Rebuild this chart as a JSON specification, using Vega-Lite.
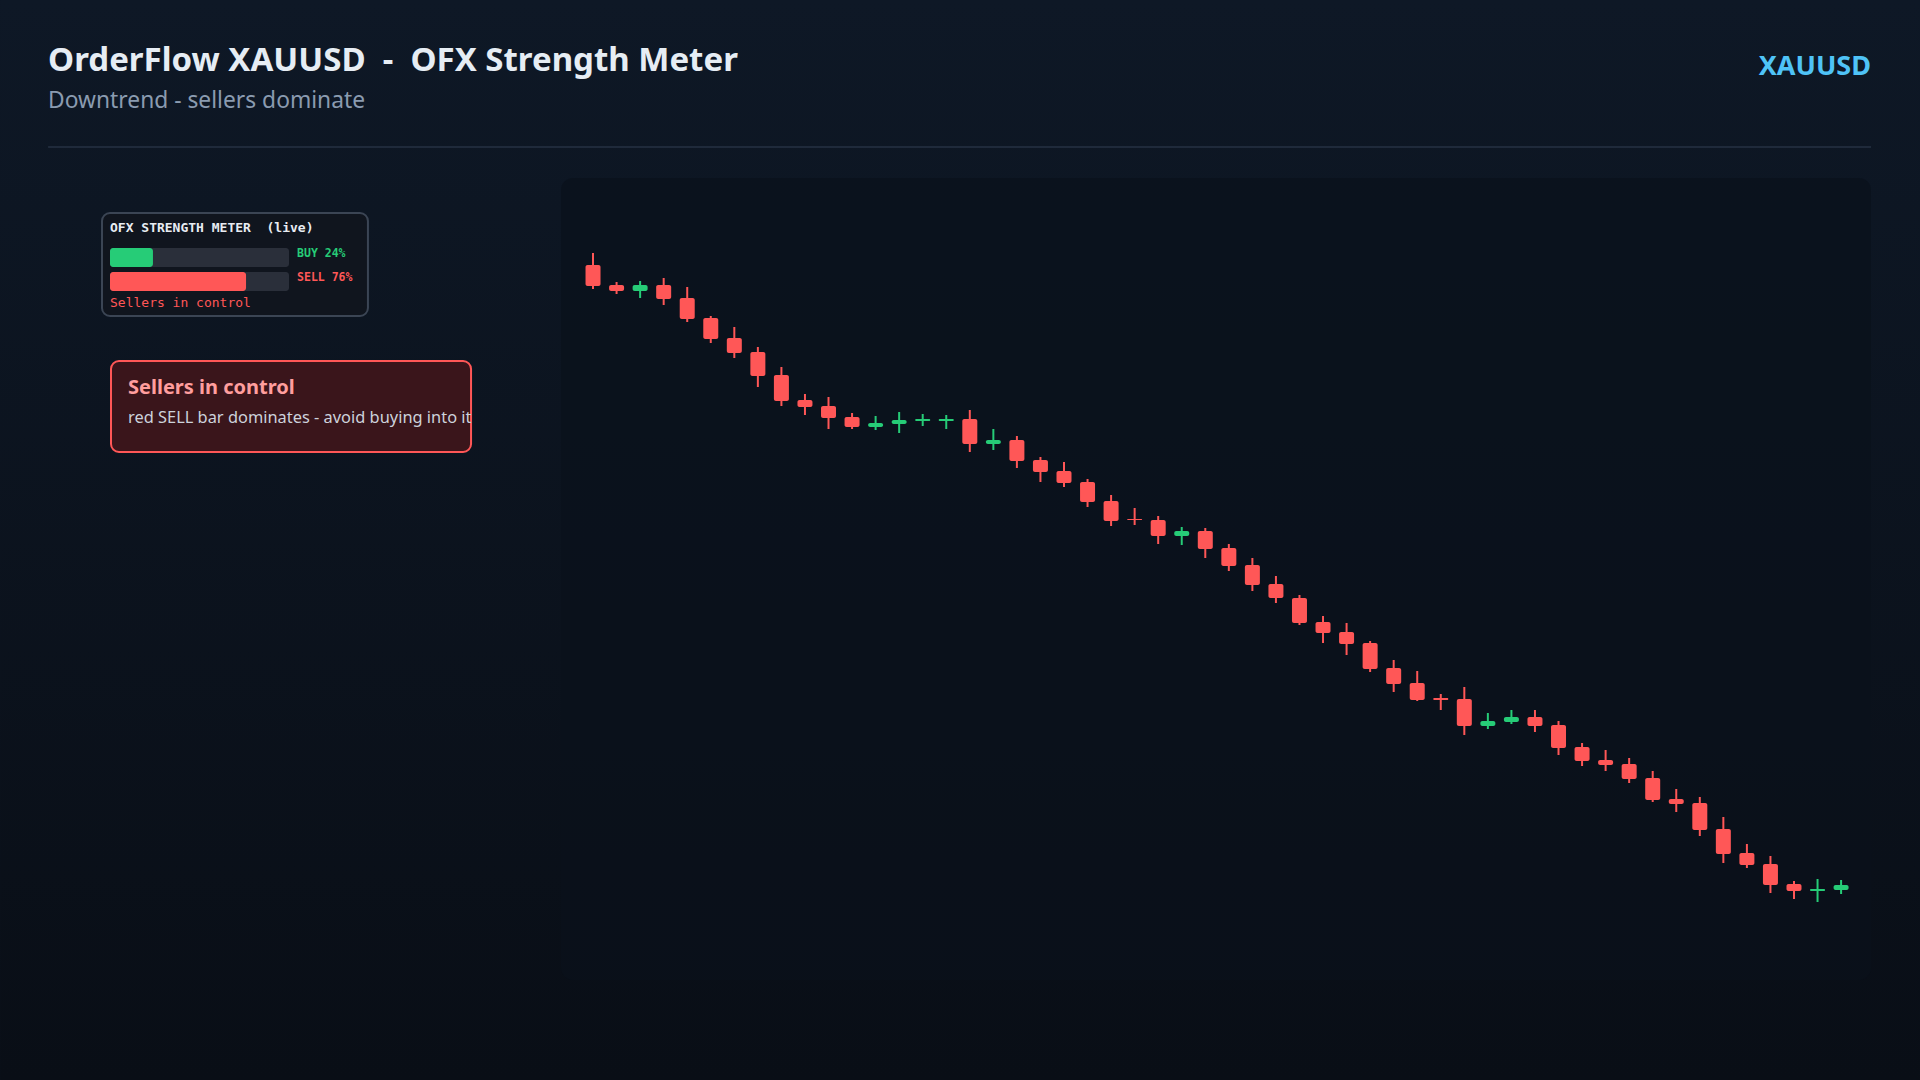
{
  "$schema": "https://vega.github.io/schema/vega-lite/v6.json",
  "description": "OrderFlow XAUUSD - OFX Strength Meter, downtrend candles with a buy/sell meter",
  "width": 1920,
  "height": 1080,
  "autosize": {"type": "none"},
  "padding": 0,
  "background": "#0d1522",
  "config": {
    "view": {"stroke": null},
    "font": "Noto Sans",
    "text": {"font": "Noto Sans"}
  },
  "datasets": {
    "candles": [
      {"t": 0, "o": 2397.0, "h": 2399.4, "l": 2392.2, "c": 2392.8},
      {"t": 1, "o": 2393.0, "h": 2393.6, "l": 2391.2, "c": 2391.8},
      {"t": 2, "o": 2391.8, "h": 2393.8, "l": 2390.4, "c": 2393.0},
      {"t": 3, "o": 2393.0, "h": 2394.4, "l": 2389.0, "c": 2390.2},
      {"t": 4, "o": 2390.4, "h": 2392.6, "l": 2385.6, "c": 2386.2},
      {"t": 5, "o": 2386.4, "h": 2386.8, "l": 2381.4, "c": 2382.2},
      {"t": 6, "o": 2382.4, "h": 2384.6, "l": 2378.4, "c": 2379.4},
      {"t": 7, "o": 2379.6, "h": 2380.6, "l": 2372.6, "c": 2374.8},
      {"t": 8, "o": 2375.0, "h": 2376.6, "l": 2368.8, "c": 2369.8},
      {"t": 9, "o": 2370.0, "h": 2371.2, "l": 2367.0, "c": 2368.6},
      {"t": 10, "o": 2368.8, "h": 2370.6, "l": 2364.2, "c": 2366.4},
      {"t": 11, "o": 2366.6, "h": 2367.4, "l": 2364.2, "c": 2364.6},
      {"t": 12, "o": 2364.6, "h": 2366.8, "l": 2364.0, "c": 2365.4},
      {"t": 13, "o": 2365.2, "h": 2367.6, "l": 2363.4, "c": 2366.0},
      {"t": 14, "o": 2365.8, "h": 2367.2, "l": 2364.8, "c": 2366.2},
      {"t": 15, "o": 2365.8, "h": 2367.0, "l": 2364.2, "c": 2366.2},
      {"t": 16, "o": 2366.2, "h": 2368.0, "l": 2359.6, "c": 2361.2},
      {"t": 17, "o": 2361.2, "h": 2364.2, "l": 2360.0, "c": 2362.0},
      {"t": 18, "o": 2362.0, "h": 2362.8, "l": 2356.4, "c": 2357.8},
      {"t": 19, "o": 2358.0, "h": 2358.6, "l": 2353.6, "c": 2355.6},
      {"t": 20, "o": 2355.8, "h": 2357.6, "l": 2352.6, "c": 2353.4},
      {"t": 21, "o": 2353.6, "h": 2354.2, "l": 2348.6, "c": 2349.6},
      {"t": 22, "o": 2349.8, "h": 2351.0, "l": 2344.8, "c": 2345.8},
      {"t": 23, "o": 2346.2, "h": 2348.4, "l": 2345.0, "c": 2346.0},
      {"t": 24, "o": 2346.0, "h": 2346.8, "l": 2341.2, "c": 2342.8},
      {"t": 25, "o": 2342.8, "h": 2344.6, "l": 2341.0, "c": 2343.8},
      {"t": 26, "o": 2343.8, "h": 2344.4, "l": 2338.4, "c": 2340.2},
      {"t": 27, "o": 2340.4, "h": 2341.2, "l": 2335.8, "c": 2336.8},
      {"t": 28, "o": 2337.0, "h": 2338.4, "l": 2331.8, "c": 2333.0},
      {"t": 29, "o": 2333.2, "h": 2334.8, "l": 2329.4, "c": 2330.4},
      {"t": 30, "o": 2330.4, "h": 2331.0, "l": 2325.0, "c": 2325.4},
      {"t": 31, "o": 2325.6, "h": 2326.8, "l": 2321.4, "c": 2323.4},
      {"t": 32, "o": 2323.6, "h": 2325.4, "l": 2319.0, "c": 2321.2},
      {"t": 33, "o": 2321.4, "h": 2321.8, "l": 2315.6, "c": 2316.2},
      {"t": 34, "o": 2316.4, "h": 2318.0, "l": 2311.6, "c": 2313.2},
      {"t": 35, "o": 2313.4, "h": 2315.8, "l": 2309.8, "c": 2310.0},
      {"t": 36, "o": 2310.4, "h": 2311.2, "l": 2308.0, "c": 2310.0},
      {"t": 37, "o": 2310.2, "h": 2312.6, "l": 2303.0, "c": 2304.8},
      {"t": 38, "o": 2304.8, "h": 2307.4, "l": 2304.2, "c": 2305.8},
      {"t": 39, "o": 2305.6, "h": 2308.0, "l": 2305.2, "c": 2306.6},
      {"t": 40, "o": 2306.6, "h": 2308.0, "l": 2303.6, "c": 2304.8},
      {"t": 41, "o": 2305.0, "h": 2305.8, "l": 2299.0, "c": 2300.4},
      {"t": 42, "o": 2300.6, "h": 2301.4, "l": 2296.8, "c": 2297.8},
      {"t": 43, "o": 2298.0, "h": 2300.0, "l": 2295.8, "c": 2297.0},
      {"t": 44, "o": 2297.2, "h": 2298.4, "l": 2293.4, "c": 2294.2},
      {"t": 45, "o": 2294.4, "h": 2295.8, "l": 2289.6, "c": 2290.0},
      {"t": 46, "o": 2290.2, "h": 2292.2, "l": 2287.6, "c": 2289.2},
      {"t": 47, "o": 2289.4, "h": 2290.6, "l": 2282.8, "c": 2284.0},
      {"t": 48, "o": 2284.2, "h": 2286.6, "l": 2277.4, "c": 2279.2},
      {"t": 49, "o": 2279.4, "h": 2281.2, "l": 2276.4, "c": 2277.0},
      {"t": 50, "o": 2277.2, "h": 2278.8, "l": 2271.4, "c": 2273.0},
      {"t": 51, "o": 2273.2, "h": 2273.8, "l": 2270.2, "c": 2271.8},
      {"t": 52, "o": 2271.8, "h": 2274.2, "l": 2269.6, "c": 2272.2},
      {"t": 53, "o": 2272.0, "h": 2274.0, "l": 2271.2, "c": 2273.0}
    ],
    "meter": [
      {"side": "BUY", "label": "BUY 24%", "pct": 24, "row": 0},
      {"side": "SELL", "label": "SELL 76%", "pct": 76, "row": 1}
    ]
  },
  "layer": [
    {
      "description": "Page background, header and candle panel share the price scale",
      "data": {"name": "candles"},
      "encoding": {
        "x": {"type": "quantitative", "scale": {"domain": [-1.36, 54.27], "range": [561, 1871], "zero": false, "nice": false, "padding": 0}, "axis": null},
        "y": {"type": "quantitative", "scale": {"domain": [2254, 2414.4], "range": [980, 178], "zero": false, "nice": false, "padding": 0}, "axis": null}
      },
      "layer": [
        {
          "data": {"values": [{}]},
          "mark": {
            "type": "rect",
            "fill": {
              "gradient": "linear", "x1": 0, "y1": 0, "x2": 0, "y2": 1,
              "stops": [{"offset": 0, "color": "#0e1826"}, {"offset": 1, "color": "#090e16"}]
            }
          },
          "encoding": {
            "x": {"datum": -25.18, "type": "quantitative"},
            "x2": {"datum": 56.35},
            "y": {"datum": 2450, "type": "quantitative"},
            "y2": {"datum": 2234}
          }
        },
        {
          "data": {"values": [{}]},
          "mark": {"type": "rect", "fill": "#0a111b", "fillOpacity": 0.7, "cornerRadius": 12},
          "encoding": {
            "x": {"datum": -1.36, "type": "quantitative"},
            "x2": {"datum": 54.27},
            "y": {"datum": 2414.4, "type": "quantitative"},
            "y2": {"datum": 2254}
          }
        },
        {
          "data": {"values": [{}]},
          "mark": {"type": "rule", "stroke": "#263243", "strokeWidth": 1.5},
          "encoding": {
            "x": {"datum": -23.14, "type": "quantitative"},
            "x2": {"datum": 54.27},
            "y": {"datum": 2420.6, "type": "quantitative"}
          }
        },
        {
          "data": {"values": [{"txt": "OrderFlow XAUUSD\u00a0\u00a0-\u00a0\u00a0OFX Strength Meter"}]},
          "mark": {"type": "text", "align": "left", "baseline": "alphabetic", "fontSize": 33, "fontWeight": "bold", "color": "#e6edf4"},
          "encoding": {
            "x": {"datum": -23.14, "type": "quantitative"},
            "y": {"datum": 2435.8, "type": "quantitative"},
            "text": {"field": "txt"}
          }
        },
        {
          "data": {"values": [{"txt": "Downtrend - sellers dominate"}]},
          "mark": {"type": "text", "align": "left", "baseline": "alphabetic", "fontSize": 22.8, "color": "#8a9bb0"},
          "encoding": {
            "x": {"datum": -23.14, "type": "quantitative"},
            "y": {"datum": 2428.5, "type": "quantitative"},
            "text": {"field": "txt"}
          }
        },
        {
          "data": {"values": [{"txt": "XAUUSD"}]},
          "mark": {"type": "text", "align": "right", "baseline": "alphabetic", "fontSize": 27, "fontWeight": "bold", "color": "#4fc3f7"},
          "encoding": {
            "x": {"datum": 54.27, "type": "quantitative"},
            "y": {"datum": 2435, "type": "quantitative"},
            "text": {"field": "txt"}
          }
        },
        {
          "description": "Wick",
          "mark": {"type": "rule", "strokeWidth": 2},
          "encoding": {
            "x": {"field": "t", "type": "quantitative"},
            "y": {"field": "l", "type": "quantitative"},
            "y2": {"field": "h"},
            "color": {
              "condition": {"test": "datum.c >= datum.o", "value": "#26cc77"},
              "value": "#ff5757"
            }
          }
        },
        {
          "description": "Body",
          "mark": {"type": "bar", "size": 15, "cornerRadius": 2},
          "encoding": {
            "x": {"field": "t", "type": "quantitative"},
            "y": {"field": "o", "type": "quantitative"},
            "y2": {"field": "c"},
            "color": {
              "condition": {"test": "datum.c >= datum.o", "value": "#26cc77"},
              "value": "#ff5757"
            }
          }
        }
      ]
    },
    {
      "description": "OFX strength meter and callout",
      "data": {"name": "meter"},
      "encoding": {
        "x": {"type": "quantitative", "scale": {"domain": [0, 100], "range": [110, 289], "zero": false, "nice": false, "padding": 0}, "axis": null},
        "y": {"type": "quantitative", "scale": {"domain": [0, 1], "range": [257.5, 281.5], "zero": false, "nice": false, "padding": 0}, "axis": null}
      },
      "layer": [
        {
          "data": {"values": [{}]},
          "mark": {"type": "rect", "fill": "#10151e", "stroke": "#3b4554", "strokeWidth": 2, "cornerRadius": 8},
          "encoding": {
            "x": {"datum": -4.47, "type": "quantitative"},
            "x2": {"datum": 144.1},
            "y": {"datum": -1.854, "type": "quantitative"},
            "y2": {"datum": 2.4375}
          }
        },
        {
          "data": {"values": [{"txt": "OFX STRENGTH METER\u00a0\u00a0(live)"}]},
          "mark": {"type": "text", "align": "left", "baseline": "alphabetic", "font": "DejaVu Sans Mono", "fontSize": 13, "fontWeight": "bold", "color": "#e8ecf2"},
          "encoding": {
            "x": {"datum": 0, "type": "quantitative"},
            "y": {"datum": -1.0625, "type": "quantitative"},
            "text": {"field": "txt"}
          }
        },
        {
          "mark": {"type": "bar", "size": 19, "cornerRadius": 3, "color": "#2a2f3a"},
          "encoding": {
            "x": {"datum": 0, "type": "quantitative"},
            "x2": {"datum": 100},
            "y": {"field": "row", "type": "quantitative"}
          }
        },
        {
          "mark": {"type": "bar", "size": 19, "cornerRadius": 3},
          "encoding": {
            "x": {"field": "pct", "type": "quantitative"},
            "x2": {"datum": 0},
            "y": {"field": "row", "type": "quantitative"},
            "color": {"field": "side", "type": "nominal", "scale": {"domain": ["BUY", "SELL"], "range": ["#26cc77", "#ff5757"]}, "legend": null}
          }
        },
        {
          "mark": {"type": "text", "align": "left", "baseline": "alphabetic", "dy": -1, "font": "DejaVu Sans Mono", "fontSize": 11.5, "fontWeight": 600},
          "encoding": {
            "x": {"datum": 104.5, "type": "quantitative"},
            "y": {"field": "row", "type": "quantitative"},
            "text": {"field": "label"},
            "color": {"field": "side", "type": "nominal", "scale": {"domain": ["BUY", "SELL"], "range": ["#26cc77", "#ff5757"]}, "legend": null}
          }
        },
        {
          "data": {"values": [{"txt": "Sellers in control"}]},
          "mark": {"type": "text", "align": "left", "baseline": "alphabetic", "font": "DejaVu Sans Mono", "fontSize": 13, "color": "#ff5757"},
          "encoding": {
            "x": {"datum": 0, "type": "quantitative"},
            "y": {"datum": 2.0625, "type": "quantitative"},
            "text": {"field": "txt"}
          }
        },
        {
          "data": {"values": [{}]},
          "mark": {"type": "rect", "fill": "#3a151b", "stroke": "#ff5757", "strokeWidth": 2, "cornerRadius": 8},
          "encoding": {
            "x": {"datum": 0.56, "type": "quantitative"},
            "x2": {"datum": 201.7},
            "y": {"datum": 4.3125, "type": "quantitative"},
            "y2": {"datum": 8.104}
          }
        },
        {
          "data": {"values": [{"txt": "Sellers in control"}]},
          "mark": {"type": "text", "align": "left", "baseline": "alphabetic", "fontSize": 20, "fontWeight": "bold", "color": "#ff9e9e"},
          "encoding": {
            "x": {"datum": 10.06, "type": "quantitative"},
            "y": {"datum": 5.6875, "type": "quantitative"},
            "text": {"field": "txt"}
          }
        },
        {
          "data": {"values": [{"txt": "red SELL bar dominates - avoid buying into it"}]},
          "mark": {"type": "text", "align": "left", "baseline": "alphabetic", "fontSize": 16.4, "color": "#cdd2db"},
          "encoding": {
            "x": {"datum": 10.06, "type": "quantitative"},
            "y": {"datum": 6.896, "type": "quantitative"},
            "text": {"field": "txt"}
          }
        }
      ]
    }
  ],
  "resolve": {"scale": {"x": "independent", "y": "independent", "color": "independent"}}
}
